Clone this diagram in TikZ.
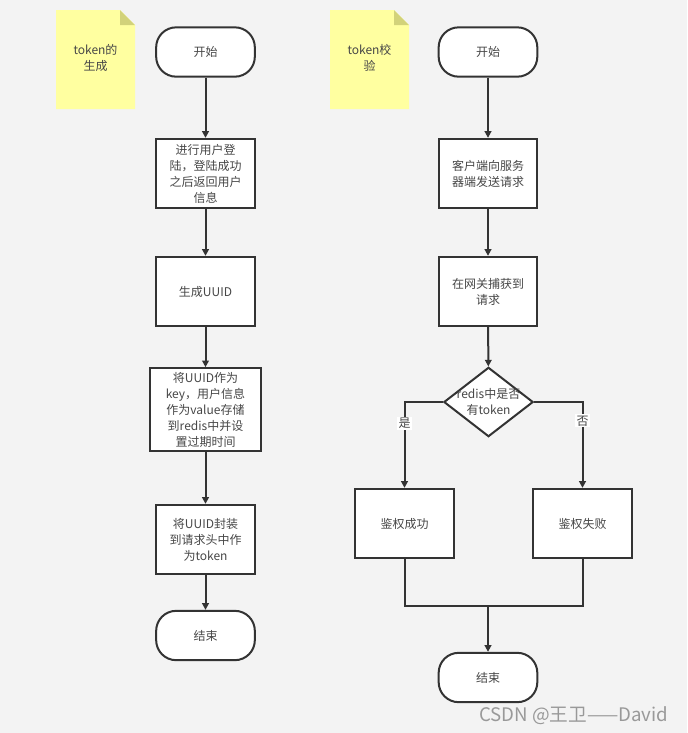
\documentclass[tikz,border=0pt]{standalone}
\usepackage{fontspec}
\setmainfont{Noto Sans CJK SC}
\usetikzlibrary{shapes.geometric,arrows.meta}
\definecolor{bgc}{HTML}{F3F3F3}
\definecolor{linec}{HTML}{333333}
\definecolor{notec}{HTML}{FFFFA0}
\definecolor{foldc}{HTML}{D2D27A}
\begin{document}
\begin{tikzpicture}[x=0.75pt,y=-0.75pt,
  every node/.style={font=\fontsize{9}{12}\selectfont, text=linec!90},
  box/.style={draw=linec, line width=1.5pt, fill=white, inner sep=0pt, align=center},
  term/.style={box, rounded corners=15pt, minimum width=74pt, minimum height=37pt},
  proc/.style={box, minimum width=74pt, minimum height=52pt},
  dia/.style={box, diamond, minimum width=67pt, minimum height=52pt},
  conn/.style={draw=linec, line width=1.5pt},
  arr/.style={conn, -{Triangle[length=5pt,width=5pt]}},
  lbl/.style={fill=white, inner sep=1pt}]
\fill[bgc] (0,0) rectangle (687,733);
\useasboundingbox (0,0) rectangle (687,733);
% notes
\fill[notec] (56,10) -- (120,10) -- (135,25) -- (135,109) -- (56,109) -- cycle;
\fill[foldc] (120,10) -- (135,25) -- (120,25) -- cycle;
\node[align=center] (n1) at (95.5,58) {token的\\生成};
\fill[notec] (330,10) -- (394,10) -- (409,25) -- (409,109) -- (330,109) -- cycle;
\fill[foldc] (394,10) -- (409,25) -- (394,25) -- cycle;
\node[align=center] (n2) at (369.5,58) {token校\\验};
% left column
\node[term] (ls) at (205.5,52) {开始};
\node[proc] (l1) at (205.5,173.5) {进行用户登\\陆，登陆成功\\之后返回用户\\信息};
\node[proc] (l2) at (205.5,291.5) {生成UUID};
\node[box, minimum width=83pt, minimum height=62pt] (l3) at (205.5,409.5) {将UUID作为\\key，用户信息\\作为value存储\\到redis中并设\\置过期时间};
\node[proc] (l4) at (205.5,539.5) {将UUID封装\\到请求头中作\\为token};
\node[term] (le) at (205.5,635.5) {结束};
\draw[arr] (ls) -- (l1);
\draw[arr] (l1) -- (l2);
\draw[arr] (l2) -- (l3);
\draw[arr] (l3) -- (l4);
\draw[arr] (l4) -- (le);
% right column
\node[term] (rs) at (488,52) {开始};
\node[proc] (r1) at (488,173.5) {客户端向服务\\器端发送请求};
\node[proc] (r2) at (488,291.5) {在网关捕获到\\请求};
\node[dia] (rd) at (488.5,402) {};
\node[align=center] (rdt) at (rd.center) {redis中是否\\有token};
\node[proc] (r3) at (404.5,523.5) {鉴权成功};
\node[proc] (r4) at (582.5,523.5) {鉴权失败};
\node[term] (re) at (488,677.5) {结束};
\coordinate (mg) at (488,606);
\draw[arr] (rs) -- (r1);
\draw[arr] (r1) -- (r2);
\draw[arr] (r2) -- (rd);
\draw[arr] (rd.west) -| (r3.north) node[lbl, pos=0.625] {是};
\draw[arr] (rd.east) -| (r4.north) node[lbl, pos=0.61] {否};
\draw[conn] (r3.south) |- (mg);
\draw[conn] (r4.south) |- (mg);
\draw[arr] (mg) -- (re);
% watermark
\node[anchor=east, text=black!40, font=\fontsize{14}{16}\selectfont] (wm) at (673,716) {CSDN @王卫——David};
\end{tikzpicture}
\end{document}
